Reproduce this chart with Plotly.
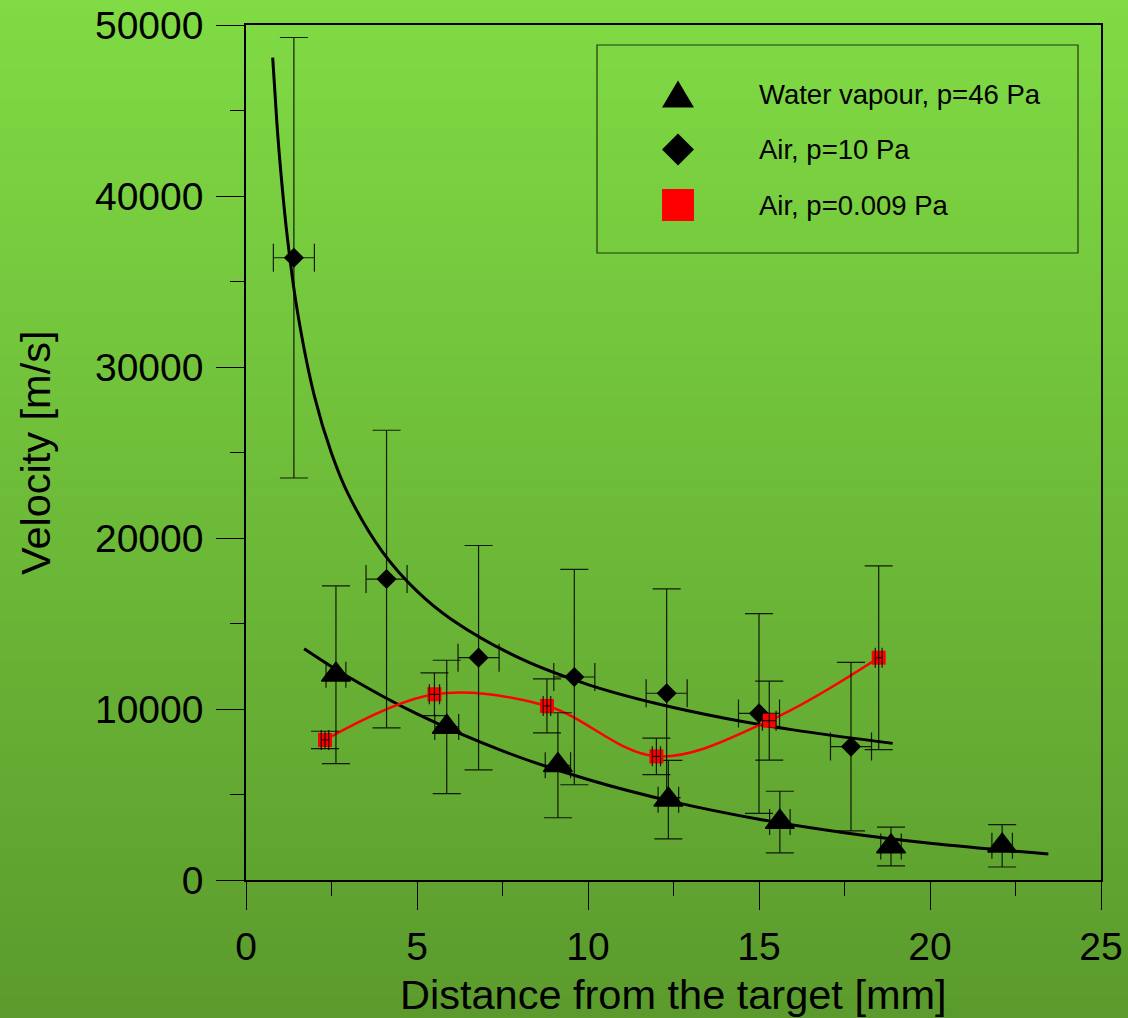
import plotly.graph_objects as go

# ---------------- data ----------------
# Water vapour, p=46 Pa
wv_x = [2.63, 5.87, 9.12, 12.35, 15.61, 18.86, 22.11]
wv_y = [12000, 8950, 6710, 4700, 3390, 1960, 2000]
wv_yerr = [5200, 3900, 3070, 2300, 1800, 1130, 1240]
wv_xerr = [0.29, 0.35, 0.37, 0.30, 0.30, 0.30, 0.30]

# Air, p=10 Pa
a10_x = [1.40, 4.11, 6.80, 9.60, 12.30, 15.00, 17.69]
a10_y = [36390, 17600, 13000, 11870, 10920, 9740, 7800]
a10_yerr = [12880, 8700, 6560, 6300, 6100, 5840, 4930]
a10_xerr = [0.6, 0.6, 0.6, 0.6, 0.6, 0.6, 0.6]

# Air, p=0.009 Pa
a009_x = [2.31, 5.51, 8.80, 12.00, 15.30, 18.50]
a009_y = [8190, 10860, 10180, 7230, 9320, 13000]
a009_yerr = [510, 1250, 1580, 1070, 2310, 5370]
a009_xerr = [0.11, 0.15, 0.11, 0.12, 0.20, 0.10]

# fitted curves
wv_fit_x = [1.7, 3.0, 5.0, 7.5, 10.0, 12.5, 15.0, 17.5, 20.0, 23.46]
wv_fit_y = [13530, 11870, 9710, 7550, 5875, 4570, 3555, 2765, 2150, 1520]

a10_fit_x = [0.78, 0.9, 1.0, 1.2, 1.5, 2.0, 2.5, 3.0, 4.0, 5.0, 6.0, 8.0, 10.0, 12.0, 14.0, 16.0, 18.91]
a10_fit_y = [48090, 44370, 41820, 37740, 33290, 28300, 24960, 22520, 19160, 16890,
             15250, 12970, 11430, 10320, 9460, 8780, 7990]

series_names = ["Water vapour, p=46 Pa", "Air, p=10 Pa", "Air, p=0.009 Pa"]

x_ticks = [0, 5, 10, 15, 20, 25]
y_ticks = [0, 10000, 20000, 30000, 40000, 50000]

# ---------------- layout geometry ----------------
W, H = 1128, 1018
L, R, T, B = 246, 27, 25, 138
PW, PH = W - L - R, H - T - B

def px_x(px):
    return (px - L) / PW

def px_y(py):
    return (H - B - py) / PH

FONT = "Arial, Liberation Sans, sans-serif"
ERR = "rgba(0,0,0,0.85)"

fig = go.Figure()

# fit curves
fig.add_trace(go.Scatter(x=a10_fit_x, y=a10_fit_y, mode="lines",
                         line=dict(color="black", width=3, shape="spline"),
                         showlegend=False, hoverinfo="skip"))
fig.add_trace(go.Scatter(x=wv_fit_x, y=wv_fit_y, mode="lines",
                         line=dict(color="black", width=3, shape="spline"),
                         showlegend=False, hoverinfo="skip"))
fig.add_trace(go.Scatter(x=a009_x, y=a009_y, mode="lines",
                         line=dict(color="#ff0000", width=2.5, shape="spline"),
                         showlegend=False, hoverinfo="skip"))

# water vapour
fig.add_trace(go.Scatter(
    x=wv_x, y=wv_y, mode="markers", name=series_names[0],
    marker=dict(symbol="triangle-up", size=25, color="black",
                line=dict(color="black", width=1.5)),
    error_y=dict(type="data", array=wv_yerr, color=ERR, thickness=1.2, width=14),
    error_x=dict(type="data", array=wv_xerr, color=ERR, thickness=1.2, width=13),
    showlegend=False))

# air 10 Pa
fig.add_trace(go.Scatter(
    x=a10_x, y=a10_y, mode="markers", name=series_names[1],
    marker=dict(symbol="diamond", size=15.5, color="black"),
    error_y=dict(type="data", array=a10_yerr, color=ERR, thickness=1.2, width=14),
    error_x=dict(type="data", array=a10_xerr, color=ERR, thickness=1.2, width=14),
    showlegend=False))

# air 0.009 Pa: markers then error bars on top
fig.add_trace(go.Scatter(
    x=a009_x, y=a009_y, mode="markers", name=series_names[2],
    marker=dict(symbol="square", size=14, color="#ff0000"),
    showlegend=False))
fig.add_trace(go.Scatter(
    x=a009_x, y=a009_y, mode="markers",
    marker=dict(symbol="square", size=14, color="rgba(0,0,0,0)"),
    error_y=dict(type="data", array=a009_yerr, color=ERR, thickness=1.2, width=14),
    error_x=dict(type="data", array=a009_xerr, color=ERR, thickness=1.2, width=10),
    showlegend=False, hoverinfo="skip"))

# ---------------- background gradient ----------------
shapes = []
top_c = (128, 219, 68)
bot_c = (91, 155, 45)
nb = 100
for i in range(nb):
    y0 = i * H / nb - 1
    y1 = (i + 1) * H / nb + 0.6
    f = (i + 0.5) / nb
    c = tuple(round(top_c[k] + (bot_c[k] - top_c[k]) * f) for k in range(3))
    shapes.append(dict(type="rect", xref="paper", yref="paper", layer="below",
                       x0=px_x(-4), x1=px_x(W + 4), y0=px_y(y1), y1=px_y(y0),
                       line=dict(width=0), fillcolor="rgb(%d,%d,%d)" % c))

# ---------------- custom legend ----------------
shapes.append(dict(type="rect", xref="paper", yref="paper",
                   x0=px_x(597), x1=px_x(1078), y0=px_y(253), y1=px_y(45),
                   line=dict(color="#1f3a12", width=1.2), fillcolor="rgba(0,0,0,0)"))
cx = 678
row_y = [94, 149.5, 205]
# triangle
shapes.append(dict(type="path", xref="paper", yref="paper",
                   path="M %f,%f L %f,%f L %f,%f Z" % (
                       px_x(cx - 16), px_y(row_y[0] + 13.5),
                       px_x(cx + 16), px_y(row_y[0] + 13.5),
                       px_x(cx), px_y(row_y[0] - 13.5)),
                   fillcolor="black", line=dict(width=0)))
# diamond
shapes.append(dict(type="path", xref="paper", yref="paper",
                   path="M %f,%f L %f,%f L %f,%f L %f,%f Z" % (
                       px_x(cx - 16), px_y(row_y[1]),
                       px_x(cx), px_y(row_y[1] - 16),
                       px_x(cx + 16), px_y(row_y[1]),
                       px_x(cx), px_y(row_y[1] + 16)),
                   fillcolor="black", line=dict(width=0)))
# square
shapes.append(dict(type="rect", xref="paper", yref="paper",
                   x0=px_x(cx - 16), x1=px_x(cx + 16),
                   y0=px_y(row_y[2] + 16), y1=px_y(row_y[2] - 16),
                   fillcolor="#ff0000", line=dict(width=0)))

annotations = []
for name, ry in zip(series_names, row_y):
    annotations.append(dict(text=name, xref="paper", yref="paper",
                            x=px_x(757), y=px_y(ry), xanchor="left", yanchor="middle",
                            showarrow=False, font=dict(family=FONT, size=27.5, color="black")))

# axis titles
annotations.append(dict(text="Distance from the target [mm]", xref="paper", yref="paper",
                        x=px_x(673), y=px_y(994), xanchor="center", yanchor="middle",
                        showarrow=False, font=dict(family=FONT, size=41.5, color="black")))
annotations.append(dict(text="Velocity [m/s]", xref="paper", yref="paper",
                        x=px_x(36), y=px_y(453), xanchor="center", yanchor="middle",
                        textangle=-90, showarrow=False,
                        font=dict(family=FONT, size=41.5, color="black")))

axis_common = dict(showgrid=False, zeroline=False, showline=True, linecolor="black",
                   linewidth=1.5, mirror=True, ticks="outside", ticklen=28,
                   tickwidth=1.3, tickcolor="black", automargin=False,
                   tickfont=dict(family=FONT, size=39, color="black"))

fig.update_layout(
    width=W, height=H,
    margin=dict(l=L, r=R, t=T, b=B, pad=0, autoexpand=False),
    paper_bgcolor="rgb(110,187,57)",
    plot_bgcolor="rgba(0,0,0,0)",
    showlegend=False,
    shapes=shapes,
    annotations=annotations,
    xaxis=dict(range=[0, 25], tickvals=x_ticks, ticktext=[str(v) for v in x_ticks],
               minor=dict(ticks="outside", ticklen=14, tickwidth=1.3, tickcolor="black", dtick=2.5),
               ticklabelstandoff=3, **axis_common),
    yaxis=dict(range=[0, 50000], tickvals=y_ticks, ticktext=[str(v) for v in y_ticks],
               minor=dict(ticks="outside", ticklen=14, tickwidth=1.3, tickcolor="black", dtick=5000),
               ticklabelstandoff=5, **axis_common),
)

fig.write_html("out.html")
